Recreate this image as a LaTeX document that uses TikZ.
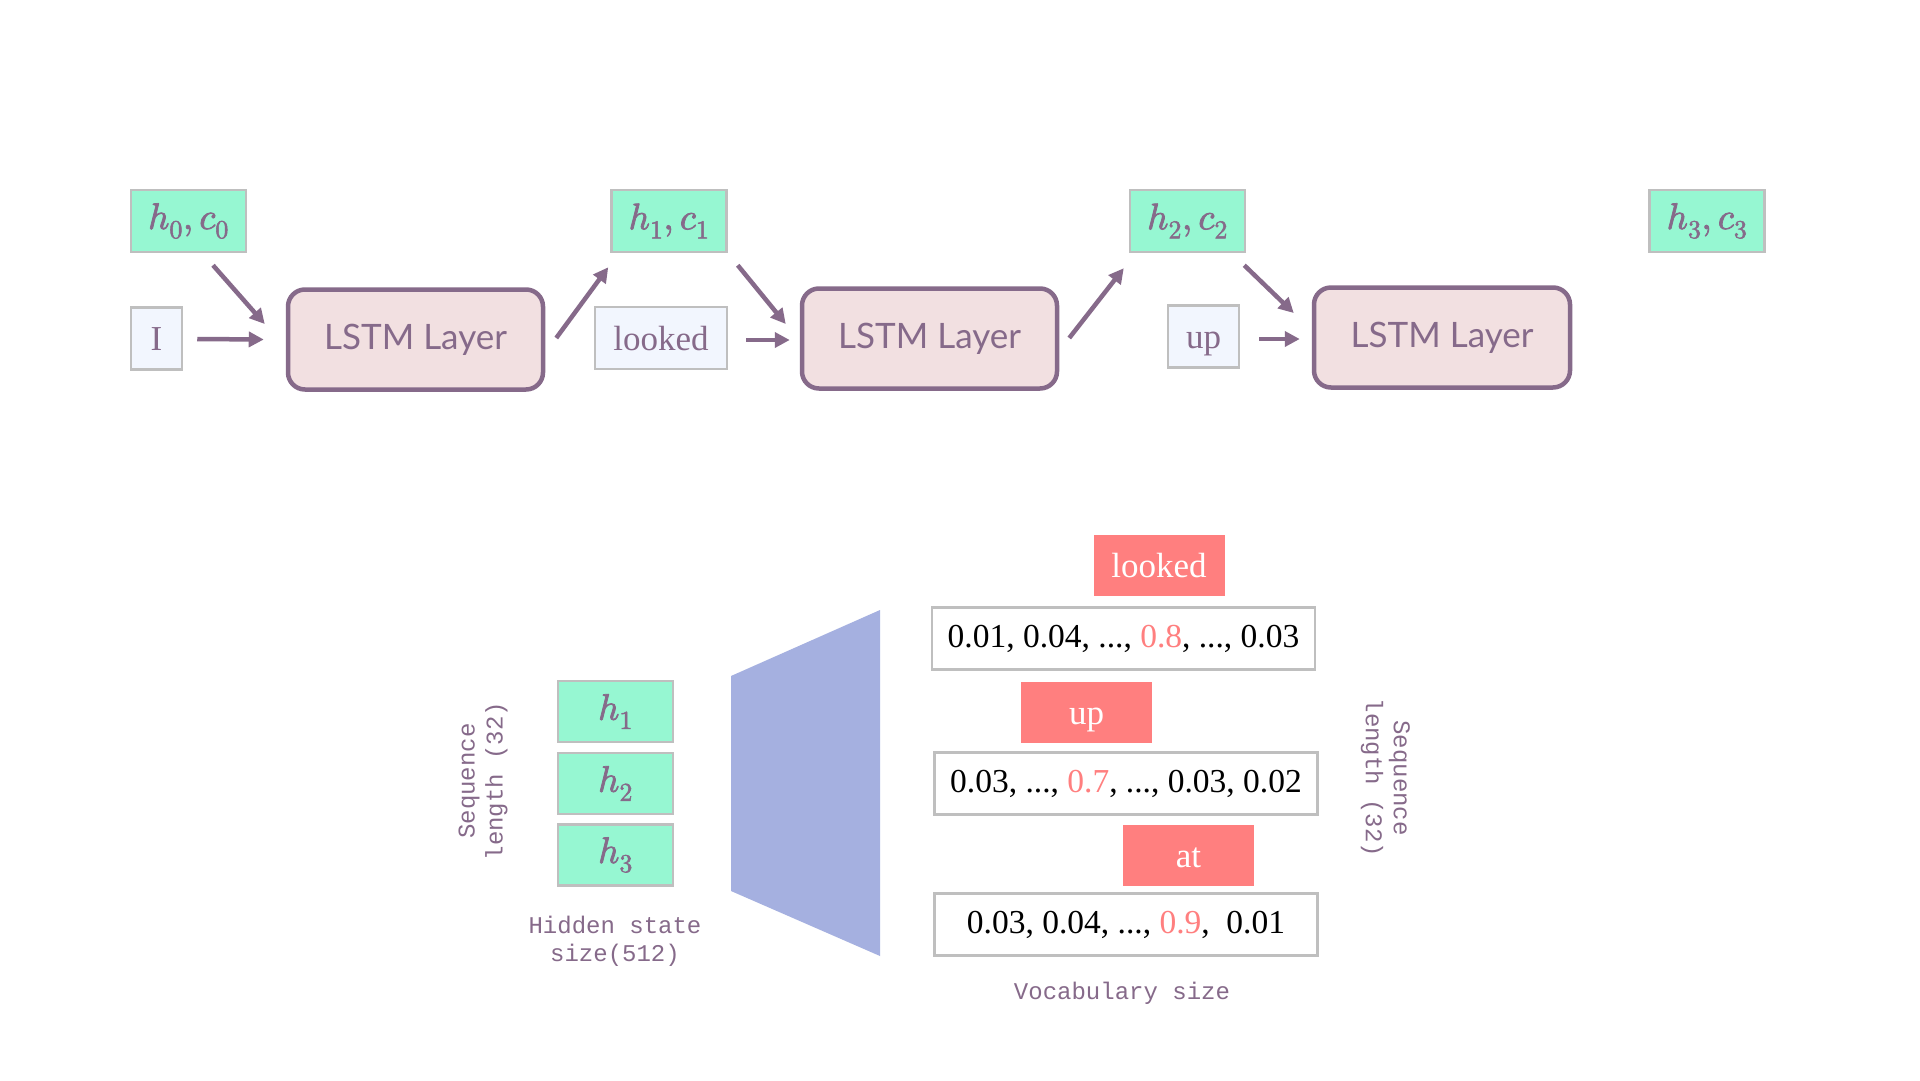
\documentclass[tikz,border=0pt]{standalone}
\usepackage{fontspec}
\usepackage{unicode-math}
\setmainfont{Liberation Serif}
\setmathfont{Latin Modern Math}[FakeBold=2]
\newfontfamily\latofont{Lato}
\newfontfamily\monofont{Liberation Mono}
\usetikzlibrary{arrows.meta,calc}
\definecolor{purp}{HTML}{866A8A}
\definecolor{mint}{HTML}{96F7D2}
\definecolor{boxgray}{HTML}{BFBFBF}
\definecolor{lstmfill}{HTML}{F2E0E1}
\definecolor{infill}{HTML}{F2F6FE}
\definecolor{salmon}{HTML}{FF7F7F}
\definecolor{trap}{HTML}{A5B0E0}
\begin{document}
\begin{tikzpicture}[x=1pt,y=-1pt,
  statebox/.style={draw=boxgray, line width=2.5pt, fill=mint, text=purp, inner sep=0pt,
     minimum width=115pt, minimum height=62pt, font=\fontsize{37}{42}\selectfont},
  inbox/.style={draw=boxgray, line width=2.5pt, fill=infill, text=purp, inner sep=0pt,
     minimum height=62pt, text height=24pt, text depth=0pt, font=\fontsize{35}{40}\selectfont},
  lstm/.style={draw=purp, line width=4.5pt, fill=lstmfill, rounded corners=17pt, text=purp,
     minimum width=255pt, minimum height=100pt, inner sep=0pt, font=\latofont\fontsize{35}{42}\selectfont},
  redbox/.style={fill=salmon, text=white, minimum width=131pt, minimum height=61pt, inner sep=0pt,
     text height=24pt, text depth=0pt, font=\fontsize{35}{40}\selectfont},
  rowbox/.style={draw=boxgray, line width=2.5pt, fill=white, text=black, minimum width=383pt,
     minimum height=62pt, inner sep=0pt, font=\fontsize{33.5}{40}\selectfont},
  hbox/.style={draw=boxgray, line width=2.5pt, fill=mint, text=purp, minimum width=115pt,
     minimum height=61pt, inner sep=0pt, font=\fontsize{37}{42}\selectfont},
  lbl/.style={text=purp, align=center, inner sep=0pt, font=\monofont\fontsize{24}{28}\selectfont},
  arr/.style={draw=purp, line width=4.5pt, -{Triangle[length=15pt,width=15pt]}}
]
\useasboundingbox[fill=white] (0,0) rectangle (1920,1080);

% top row
\node[statebox] (h0) at (188.5,221) {$h_0, c_0$};
\node[inbox, minimum width=51pt] (in1) at (156.5,338.5) {I};
\node[lstm] (l1) at (415.5,339.5) {LSTM Layer};
\node[statebox] (h1) at (669,221) {$h_1, c_1$};
\node[inbox, minimum width=132pt] (in2) at (661,338) {looked};
\node[lstm] (l2) at (929.5,338.5) {LSTM Layer};
\node[statebox] (h2) at (1187.5,221) {$h_2, c_2$};
\node[inbox, minimum width=71pt] (in3) at (1203.5,336.5) {up};
\node[lstm, minimum width=256pt] (l3) at (1442,337.5) {LSTM Layer};
\node[statebox] (h3) at (1707,221) {$h_3, c_3$};

\draw[arr] ([shift={(24.5,12)}]h0.south) -- ([shift={(-21,-15.5)}]l1.west);
\draw[arr] ([shift={(14,0.5)}]in1.east) -- ([shift={(-22,0)}]l1.west);
\draw[arr] ([shift={(11,-1.5)}]l1.east) -- ([shift={(-2,14)}]h1.south west);
\draw[arr] ([shift={(10,12)}]h1.south east) -- ([shift={(-14,-14.5)}]l2.west);
\draw[arr] ([shift={(18,2)}]in2.east) -- ([shift={(-10,1.5)}]l2.west);
\draw[arr] ([shift={(10,-0.5)}]l2.east) -- ([shift={(-5,15)}]h2.south west);
\draw[arr] ([shift={(-2,12)}]h2.south east) -- ([shift={(-18,-24.5)}]l3.west);
\draw[arr] ([shift={(19,2.5)}]in3.east) -- ([shift={(-12,1.5)}]l3.west);

% bottom: hidden states
\node[hbox] (b1) at (615.5,711.5) {$h_1$};
\node[hbox] (b2) at (615.5,783.5) {$h_2$};
\node[hbox] (b3) at (615.5,855) {$h_3$};
\node[lbl, rotate=90] (seqL) at (483,781) {Sequence\\length (32)};
\node[lbl] (hid) at (615,941) {Hidden state\\size(512)};

% projection
\fill[trap] (731,676) -- (880,610) -- (880,956) -- (731,891) -- cycle;

% outputs
\node[redbox] (w1) at (1159,565.5) {looked};
\node[rowbox] (r1) at (1123.5,638.5) {0.01, 0.04, ..., \textcolor{salmon}{0.8}, ..., 0.03};
\node[redbox] (w2) at (1086.5,712.5) {up};
\node[rowbox] (r2) at (1126,783.5) {0.03, ..., \textcolor{salmon}{0.7}, ..., 0.03, 0.02};
\node[redbox] (w3) at (1188.5,855) {at};
\node[rowbox] (r3) at (1126,924.5) {0.03, 0.04, ..., \textcolor{salmon}{0.9},\ \ 0.01};
\node[lbl] (voc) at (1122,993) {Vocabulary size};
\node[lbl, rotate=-90] (seqR) at (1385.5,778) {Sequence\\length (32)};
\end{tikzpicture}
\end{document}
